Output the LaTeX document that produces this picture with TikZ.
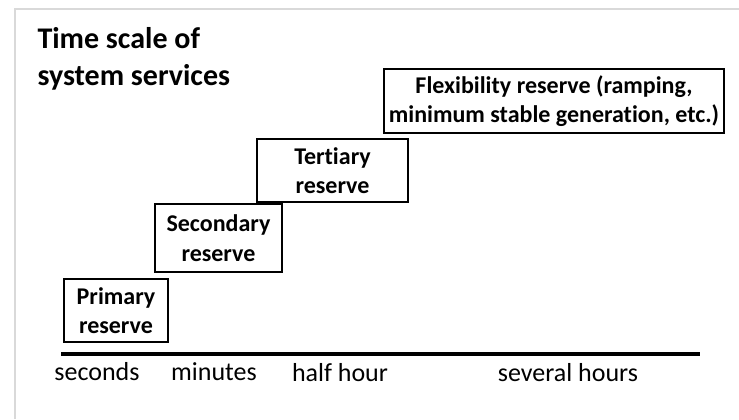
\documentclass[tikz,border=0pt]{standalone}
\usepackage{fontspec}
\setmainfont{Carlito}[Ligatures=NoCommon]
\tikzset{every picture/.style={line width=0.75pt}}
\tikzset{
  resbox/.style={draw, line width=2pt, align=center, inner sep=0pt,
    font=\fontsize{18}{22}\selectfont\bfseries},
  scalelabel/.style={font=\fontsize{19.5}{23}\selectfont, inner sep=0pt}
}
\begin{document}
\begin{tikzpicture}[x=0.75pt,y=0.75pt,yscale=-1,xscale=1]
	\useasboundingbox (0,0) rectangle (739,419);
	
	%Shape: Frame
	\draw [color={rgb, 255:red, 217; green, 217; blue, 217 }, line width=1pt]  (15,419) -- (15,9) -- (739,9) ;
	
	% Text Node
	\node [anchor=north west, align=left, inner sep=0pt, font=\fontsize{22.5}{28}\selectfont\bfseries] (title) at (37,27) {Time scale of\\system services};
	
	%Shape: Rectangle
	\node [resbox, minimum width=104*0.75pt, minimum height=63*0.75pt] (primary) at (116,310.5) {Primary\\reserve};
	%Shape: Rectangle
	\node [resbox, minimum width=127*0.75pt, minimum height=68*0.75pt] (secondary) at (218.5,238) {Secondary\\reserve};
	%Shape: Rectangle
	\node [resbox, minimum width=151*0.75pt, minimum height=63*0.75pt] (tertiary) at (332.5,170.5) {Tertiary\\reserve};
	%Shape: Rectangle
	\node [resbox, minimum width=340*0.75pt, minimum height=64*0.75pt] (flexibility) at (554,101) {Flexibility reserve (ramping,\\minimum stable generation, etc.)};
	
	%Straight Lines
	\coordinate (axisstart) at (61,354);
	\coordinate (axisend) at (700,354);
	\draw [line width=3pt]  (axisstart) -- (axisend) ;
	
	% Text Node
	\node [scalelabel] (seconds) at (97,372) {seconds};
	% Text Node
	\node [scalelabel] (minutes) at (214,372) {minutes};
	% Text Node
	\node [scalelabel] (halfhour) at (340,373) {half hour};
	% Text Node
	\node [scalelabel] (severalhours) at (568,373) {several hours};
	
\end{tikzpicture}
\end{document}
